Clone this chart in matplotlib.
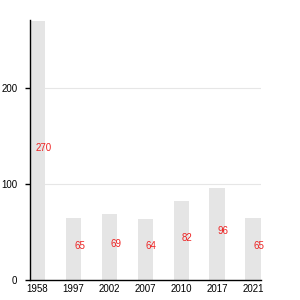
import matplotlib
matplotlib.use("Agg")
import matplotlib.pyplot as plt

years = ["1958", "1997", "2002", "2007", "2010", "2017", "2021"]
values = [270, 65, 69, 64, 82, 96, 65]
yticks = [0, 100, 200]

plt.rcParams['font.family'] = ['Liberation Sans', 'DejaVu Sans']

fig = plt.figure(figsize=(3, 3), dpi=100)
ax = fig.add_axes([0.1, 0.0667, 0.77, 0.8667])

x = list(range(len(years)))
ax.bar(x, values, width=0.43, color="#e5e5e5", zorder=2)
for xi, v in zip(x, values):
    ax.annotate(str(v), (xi + 0.17, v / 2), xytext=(0, 2), textcoords="offset points",
                ha="center", va="center", color="#ee2222", fontsize=7, zorder=3)

ax.set_xlim(-0.21, 6.22)
ax.set_ylim(0, 270.8)
ax.set_xticks(x)
ax.set_xticklabels(years)
ax.set_yticks(yticks)
ax.tick_params(axis="x", length=0, pad=3, labelsize=7)
ax.tick_params(axis="y", length=3.6, width=1, pad=5.5, labelsize=7)
for gy in yticks[1:]:
    ax.axhline(gy, color="#e6e6e6", linewidth=0.8, zorder=1)
ax.spines["top"].set_visible(False)
ax.spines["right"].set_visible(False)
ax.spines["left"].set_linewidth(1)
ax.spines["bottom"].set_linewidth(1)

fig.savefig("out.png", dpi=100)
